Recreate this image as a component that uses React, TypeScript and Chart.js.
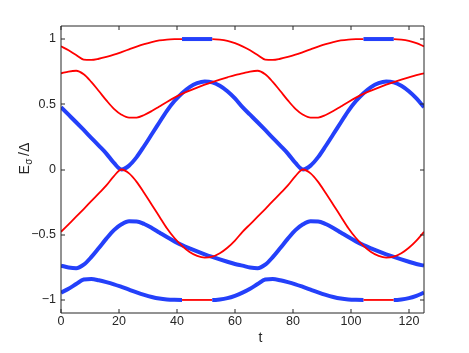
import React, { useEffect, useRef } from "react";
import { Chart, registerables } from "chart.js";

Chart.register(...registerables);

// sampling times (t)
const tValues = [
  0, 2.61, 5.22, 7.83, 10.43, 13.04, 15.65, 18.26, 20.87, 23.48, 26.09, 28.7, 31.3,
  33.91, 36.52, 39.13, 41.74, 44.35, 46.96, 49.57, 52.17, 54.78, 57.39, 60.0, 62.6,
  65.21, 67.82, 70.43, 73.03, 75.64, 78.25, 80.86, 83.47, 86.08, 88.68, 91.29, 93.9,
  96.51, 99.12, 101.73, 104.33, 106.94, 109.55, 112.16, 114.77, 117.38, 119.98, 122.59, 125.2,
];

// top curve (red, with blue plateau at +1)
const topCurve = [
  0.944, 0.914, 0.878, 0.843, 0.840, 0.849, 0.863, 0.880, 0.900, 0.921, 0.942, 0.961, 0.977,
  0.989, 0.996, 0.999, 1.0, 1.0, 1.0, 1.0, 1.0, 0.996, 0.986, 0.968, 0.944,
  0.914, 0.878, 0.843, 0.840, 0.849, 0.863, 0.880, 0.900, 0.921, 0.942, 0.961, 0.977,
  0.989, 0.996, 0.999, 1.0, 1.0, 1.0, 1.0, 1.0, 0.996, 0.986, 0.968, 0.944,
];

// second red curve (starts 0.74)
const redUpper = [
  0.737, 0.751, 0.757, 0.730, 0.672, 0.602, 0.530, 0.465, 0.420, 0.397, 0.398, 0.418, 0.448,
  0.483, 0.518, 0.551, 0.580, 0.605, 0.628, 0.650, 0.670, 0.689, 0.707, 0.724, 0.737,
  0.751, 0.757, 0.730, 0.672, 0.602, 0.530, 0.465, 0.420, 0.397, 0.398, 0.418, 0.448,
  0.483, 0.518, 0.551, 0.580, 0.605, 0.628, 0.650, 0.670, 0.689, 0.707, 0.724, 0.737,
];

// red curve touching zero from below (starts -0.48)
const redLower = [
  -0.478, -0.420, -0.362, -0.303, -0.243, -0.183, -0.122, -0.050, 0.0, -0.030, -0.095, -0.18, -0.27,
  -0.36, -0.45, -0.525, -0.585, -0.632, -0.662, -0.675, -0.668, -0.642, -0.60, -0.545, -0.478,
  -0.420, -0.362, -0.303, -0.243, -0.183, -0.122, -0.050, 0.0, -0.030, -0.095, -0.18, -0.27,
  -0.36, -0.45, -0.525, -0.585, -0.632, -0.662, -0.675, -0.668, -0.642, -0.60, -0.545, -0.478,
];

// blue curve touching zero from above (starts 0.48)
const blueUpper = [
  0.478, 0.420, 0.362, 0.303, 0.243, 0.183, 0.122, 0.050, 0.0, 0.030, 0.095, 0.18, 0.27,
  0.36, 0.45, 0.525, 0.585, 0.632, 0.662, 0.675, 0.668, 0.642, 0.60, 0.545, 0.478,
  0.420, 0.362, 0.303, 0.243, 0.183, 0.122, 0.050, 0.0, 0.030, 0.095, 0.18, 0.27,
  0.36, 0.45, 0.525, 0.585, 0.632, 0.662, 0.675, 0.668, 0.642, 0.60, 0.545, 0.478,
];

// blue curve (starts -0.74)
const blueLower = [
  -0.737, -0.751, -0.757, -0.730, -0.672, -0.602, -0.530, -0.465, -0.420, -0.397, -0.398, -0.418, -0.448,
  -0.483, -0.518, -0.551, -0.580, -0.605, -0.628, -0.650, -0.670, -0.689, -0.707, -0.724, -0.737,
  -0.751, -0.757, -0.730, -0.672, -0.602, -0.530, -0.465, -0.420, -0.397, -0.398, -0.418, -0.448,
  -0.483, -0.518, -0.551, -0.580, -0.605, -0.628, -0.650, -0.670, -0.689, -0.707, -0.724, -0.737,
];

// bottom curve (blue, with red plateau at -1)
const bottomCurve = [
  -0.944, -0.914, -0.878, -0.843, -0.840, -0.849, -0.863, -0.880, -0.900, -0.921, -0.942, -0.961, -0.977,
  -0.989, -0.996, -0.999, -1.0, -1.0, -1.0, -1.0, -1.0, -0.996, -0.986, -0.968, -0.944,
  -0.914, -0.878, -0.843, -0.840, -0.849, -0.863, -0.880, -0.900, -0.921, -0.942, -0.961, -0.977,
  -0.989, -0.996, -0.999, -1.0, -1.0, -1.0, -1.0, -1.0, -0.996, -0.986, -0.968, -0.944,
];

// t ranges where the plateau colours swap
const swapRanges = [
  [41.74, 52.17],
  [104.33, 114.77],
];

const xTickValues = [0, 20, 40, 60, 80, 100, 120];
const yTickValues = [-1, -0.5, 0, 0.5, 1];

const RED = "rgb(255,0,0)";
const BLUE = "rgb(36,64,250)";
const AXIS = "#262626";
const FONT = "'Liberation Sans', Arial, Helvetica, sans-serif";
const RED_W = 1.8;
const BLUE_W = 4;

const inSwap = (x0: number, x1: number) =>
  swapRanges.some(([a, b]) => x0 >= a - 0.01 && x1 <= b + 0.01);

const toPts = (ys: number[]) => tValues.map((x, i) => ({ x, y: ys[i] }));

const fmt = (v: number) => (v < 0 ? "\u2212" + String(Math.abs(v)) : String(v));

const framePlugin = {
  id: "frame",
  afterDraw(chart: any) {
    const { ctx, chartArea } = chart;
    const { left, right, top, bottom } = chartArea;
    const xs = chart.scales.x;
    const ys = chart.scales.y;
    ctx.save();
    ctx.strokeStyle = AXIS;
    ctx.lineWidth = 1;
    ctx.beginPath();
    ctx.rect(left, top, right - left, bottom - top);
    ctx.stroke();
    const tl = 4;
    ctx.beginPath();
    xTickValues.forEach((v) => {
      const px = Math.round(xs.getPixelForValue(v));
      ctx.moveTo(px, bottom);
      ctx.lineTo(px, bottom - tl);
      ctx.moveTo(px, top);
      ctx.lineTo(px, top + tl);
    });
    yTickValues.forEach((v) => {
      const py = Math.round(ys.getPixelForValue(v));
      ctx.moveTo(left, py);
      ctx.lineTo(left + tl, py);
      ctx.moveTo(right, py);
      ctx.lineTo(right - tl, py);
    });
    ctx.stroke();

    // x label
    ctx.fillStyle = AXIS;
    ctx.font = `14px ${FONT}`;
    ctx.textAlign = "center";
    ctx.textBaseline = "alphabetic";
    ctx.fillText("t", 260.5, 341.5);

    // y label E_sigma / Delta
    ctx.translate(29, 174.5);
    ctx.rotate(-Math.PI / 2);
    ctx.textAlign = "left";
    ctx.font = `14px ${FONT}`;
    ctx.fillText("E", 0, 0);
    const wE = ctx.measureText("E").width;
    ctx.font = `10px ${FONT}`;
    ctx.fillText("\u03c3", wE + 0.3, 3);
    const wS = ctx.measureText("\u03c3").width;
    ctx.font = `14px ${FONT}`;
    ctx.fillText("/\u0394", wE + wS + 3, 0);
    ctx.restore();
  },
};

export default function App() {
  const ref = useRef<HTMLCanvasElement | null>(null);

  useEffect(() => {
    if (!ref.current) return;
    const common = {
      pointRadius: 0,
      fill: false,
      cubicInterpolationMode: "monotone" as const,
      borderCapStyle: "butt" as const,
      borderJoinStyle: "round" as const,
      clip: 0,
    };
    const chart = new Chart(ref.current, {
      type: "line",
      data: {
        datasets: [
          {
            ...common,
            data: toPts(topCurve),
            borderColor: RED,
            borderWidth: RED_W,
            segment: {
              borderColor: (c: any) => (inSwap(c.p0.parsed.x, c.p1.parsed.x) ? BLUE : RED),
              borderWidth: (c: any) => (inSwap(c.p0.parsed.x, c.p1.parsed.x) ? BLUE_W : RED_W),
            },
          },
          { ...common, data: toPts(redUpper), borderColor: RED, borderWidth: RED_W },
          { ...common, data: toPts(redLower), borderColor: RED, borderWidth: RED_W },
          { ...common, data: toPts(blueUpper), borderColor: BLUE, borderWidth: BLUE_W },
          { ...common, data: toPts(blueLower), borderColor: BLUE, borderWidth: BLUE_W },
          {
            ...common,
            data: toPts(bottomCurve),
            borderColor: BLUE,
            borderWidth: BLUE_W,
            segment: {
              borderColor: (c: any) => (inSwap(c.p0.parsed.x, c.p1.parsed.x) ? RED : BLUE),
              borderWidth: (c: any) => (inSwap(c.p0.parsed.x, c.p1.parsed.x) ? RED_W : BLUE_W),
            },
          },
        ] as any,
      },
      options: {
        responsive: false,
        animation: false,
        events: [],
        layout: { padding: { left: 0, top: 26, right: 45, bottom: 0 }, autoPadding: false },
        plugins: { legend: { display: false }, tooltip: { enabled: false } },
        scales: {
          x: {
            type: "linear",
            min: 0,
            max: 125.2,
            grid: { display: false, drawTicks: false },
            border: { display: false },
            afterBuildTicks: (s: any) => {
              s.ticks = xTickValues.map((v) => ({ value: v }));
            },
            afterFit: (s: any) => {
              s.height = 40;
            },
            ticks: {
              padding: 1,
              color: AXIS,
              maxRotation: 0,
              autoSkip: false,
              font: { family: FONT, size: 12.5 },
              callback: (v: any) => fmt(Number(v)),
            },
          },
          y: {
            type: "linear",
            min: -1.1,
            max: 1.1,
            grid: { display: false, drawTicks: false },
            border: { display: false },
            afterBuildTicks: (s: any) => {
              s.ticks = yTickValues.map((v) => ({ value: v }));
            },
            afterFit: (s: any) => {
              s.width = 61;
            },
            ticks: {
              padding: 5,
              color: AXIS,
              autoSkip: false,
              font: { family: FONT, size: 12.5 },
              callback: (v: any) => fmt(Number(v)),
            },
          },
        },
      } as any,
      plugins: [framePlugin],
    });
    return () => chart.destroy();
  }, []);

  return (
    <canvas
      ref={ref}
      width={469}
      height={353}
      style={{ position: "fixed", left: 0, top: 0, width: 469, height: 353, display: "block", background: "#fff" }}
    />
  );
}
